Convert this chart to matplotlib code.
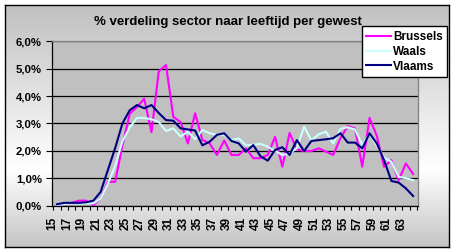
import numpy as np
import matplotlib.pyplot as plt
from matplotlib.colors import LinearSegmentedColormap

# data (percent per age)
ages = list(range(15, 65))
brussels = [0.02, 0.05, 0.10, 0.18, 0.18, 0.02, 0.25, 0.87, 0.87, 2.20,
            3.35, 3.60, 3.90, 2.68, 4.90, 5.13, 3.24, 3.05, 2.27, 3.37,
            2.40, 2.27, 1.85, 2.38, 1.85, 1.85, 2.09, 1.73, 1.73, 1.85,
            2.51, 1.42, 2.65, 2.05, 1.99, 1.99, 2.09, 1.97, 1.85, 2.46,
            2.90, 2.82, 1.42, 3.20, 2.55, 1.42, 1.66, 0.92, 1.54, 1.15]
waals = [0.02, 0.05, 0.08, 0.08, 0.08, 0.08, 0.25, 0.80, 1.45, 2.35,
         2.85, 3.20, 3.20, 3.15, 3.05, 2.72, 2.82, 2.52, 2.70, 2.42,
         2.76, 2.64, 2.58, 2.58, 2.39, 2.45, 2.20, 2.22, 2.25, 2.15,
         2.00, 1.85, 1.90, 2.10, 2.88, 2.38, 2.60, 2.70, 2.27, 2.80,
         2.86, 2.78, 2.21, 2.62, 2.20, 1.75, 1.60, 1.05, 1.00, 0.93]
vlaams = [0.05, 0.10, 0.10, 0.10, 0.12, 0.18, 0.50, 1.30, 2.10, 3.00,
          3.48, 3.67, 3.55, 3.67, 3.38, 3.12, 3.10, 2.82, 2.78, 2.74,
          2.20, 2.33, 2.58, 2.64, 2.36, 2.27, 1.97, 2.21, 1.80, 1.64,
          2.03, 2.13, 1.85, 2.39, 1.99, 2.36, 2.39, 2.42, 2.46, 2.64,
          2.30, 2.30, 2.09, 2.64, 2.27, 1.66, 0.90, 0.84, 0.63, 0.35]
series_names = ['Brussels', 'Waals', 'Vlaams']
yticks = [0, 1, 2, 3, 4, 5, 6]
ytick_labels = ['0,0%', '1,0%', '2,0%', '3,0%', '4,0%', '5,0%', '6,0%']
title = '% verdeling sector naar leeftijd per gewest'

W, H = 455, 252
font = dict(family='Liberation Sans', weight='bold')

fig = plt.figure(figsize=(W / 100, H / 100), dpi=100)

# chart area: vertical grey-white-grey gradient with black border
bg = fig.add_axes([5 / W, 5 / H, 444 / W, 242 / H])
cmap = LinearSegmentedColormap.from_list(
    'bg', [(0, '#c0c0c0'), (0.68, '#ffffff'), (1, '#c4c4c4')])
bg.imshow(np.linspace(0, 1, 256).reshape(-1, 1), aspect='auto', cmap=cmap,
          extent=[0, 1, 0, 1])
bg.set_xticks([])
bg.set_yticks([])
for s in bg.spines.values():
    s.set_color('black')
    s.set_linewidth(1)

# plot area
ax = fig.add_axes([51.5 / W, (H - 205.6) / H, 366 / W, 164.4 / H])
ax.set_facecolor('#c0c0c0')
x = np.arange(len(ages))
ax.plot(x, brussels, color='#ff00ff', lw=1.5, label=series_names[0])
ax.plot(x, waals, color='#ccffff', lw=1.5, label=series_names[1])
ax.plot(x, vlaams, color='#000080', lw=1.5, label=series_names[2])

ax.set_xlim(-0.76, 49.6)
ax.set_ylim(0, 6)
ax.yaxis.grid(True, color='black', lw=0.9)
ax.set_axisbelow(True)

ax.set_yticks(yticks)
ax.set_yticklabels(ytick_labels, **font, size=8.2)
ax.tick_params(axis='y', length=4, width=0.8, pad=3)

ax.set_xticks(x[::2] - 0.6)
ax.set_xticklabels([str(a) for a in ages[::2]], rotation=90, **font, size=8.5)
ax.set_xticks(np.arange(-0.5, 50, 1), minor=True)
ax.tick_params(axis='x', which='major', length=0, pad=8)
ax.tick_params(axis='x', which='minor', length=3, width=0.8)

for side in ['left', 'bottom']:
    ax.spines[side].set_color('black')
    ax.spines[side].set_linewidth(0.9)
for side in ['top', 'right']:
    ax.spines[side].set_color('#808080')
    ax.spines[side].set_linewidth(0.9)

fig.text(227.7 / W, 1 - 25.3 / H, title, ha='center', va='baseline',
         **font, size=9.5)

leg = ax.legend(loc='upper right', bbox_to_anchor=(447.3 / W, 1 - 26 / H),
                bbox_transform=fig.transFigure, fancybox=False,
                edgecolor='black', framealpha=1, borderpad=0.4,
                handlelength=2.1, handletextpad=0.15, labelspacing=0.25,
                borderaxespad=0, prop=dict(**font, size=8.5))
leg.get_frame().set_linewidth(1.0)

fig.savefig('out.png', dpi=100)
